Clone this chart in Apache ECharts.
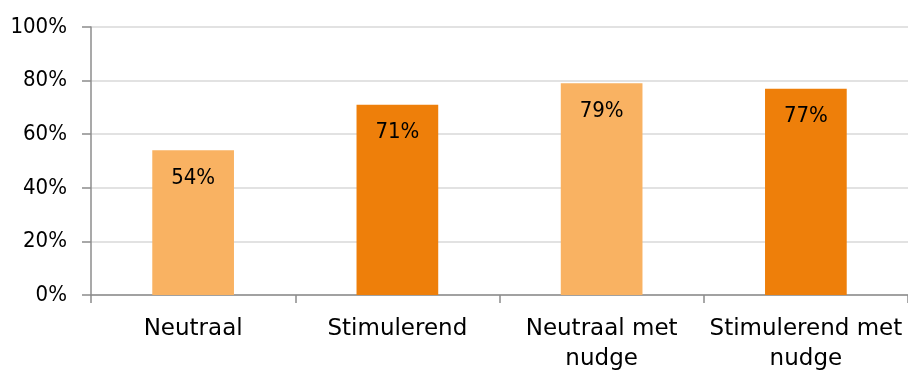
<!DOCTYPE html>
<html>
<head>
<meta charset="utf-8">
<script src="https://cdn.jsdelivr.net/npm/echarts@6/dist/echarts.min.js"></script>
<style>
  html, body { margin: 0; padding: 0; background: #fff; }
  #chart { width: 908px; height: 374px; }
</style>
</head>
<body>
<div id="chart"></div>
<script>
// Share of participants per condition
const categories = ['Neutraal', 'Stimulerend', 'Neutraal met\nnudge', 'Stimulerend met\nnudge'];
const values = [54, 71, 79, 77];
const barColors = ['#F9B262', '#EE7F0A', '#F9B262', '#EE7F0A'];
const yTicks = [0, 20, 40, 60, 80, 100];

const FONT = 'DejaVu Sans';
const NUM_FONT = '"DejaVu Sans Condensed", "DejaVu Sans"';
const chart = echarts.init(document.getElementById('chart'), null, { renderer: 'canvas' });

chart.setOption({
  animation: false,
  backgroundColor: '#ffffff',
  grid: { left: 91, top: 27, width: 820, height: 270, containLabel: false },
  xAxis: {
    type: 'category',
    data: categories,
    axisLine: { lineStyle: { color: '#8C8C8C', width: 1.5 } },
    axisTick: { show: true, length: 8, lineStyle: { color: '#8C8C8C', width: 1.5 } },
    axisLabel: {
      color: '#000', fontFamily: FONT, fontSize: 23, lineHeight: 30, margin: 19,
      interval: 0
    }
  },
  yAxis: {
    type: 'value',
    min: yTicks[0],
    max: yTicks[yTicks.length - 1],
    interval: 20,
    axisLine: { show: true, lineStyle: { color: '#8C8C8C', width: 1.5 } },
    axisTick: { show: true, length: 9, lineStyle: { color: '#8C8C8C', width: 1.5 } },
    axisLabel: {
      color: '#000', fontFamily: NUM_FONT, fontSize: 22, margin: 24,
      formatter: v => v + '%'
    },
    splitLine: { show: true, lineStyle: { color: '#D9D9D9', width: 1.5 } }
  },
  series: [{
    type: 'bar',
    barWidth: '40%',
    data: values.map((v, i) => ({ value: v, itemStyle: { color: barColors[i] } })),
    label: {
      show: true,
      position: 'insideTop',
      distance: 17,
      color: '#000',
      fontFamily: NUM_FONT,
      fontSize: 22,
      formatter: p => p.value + '%'
    }
  }]
});
</script>
</body>
</html>
